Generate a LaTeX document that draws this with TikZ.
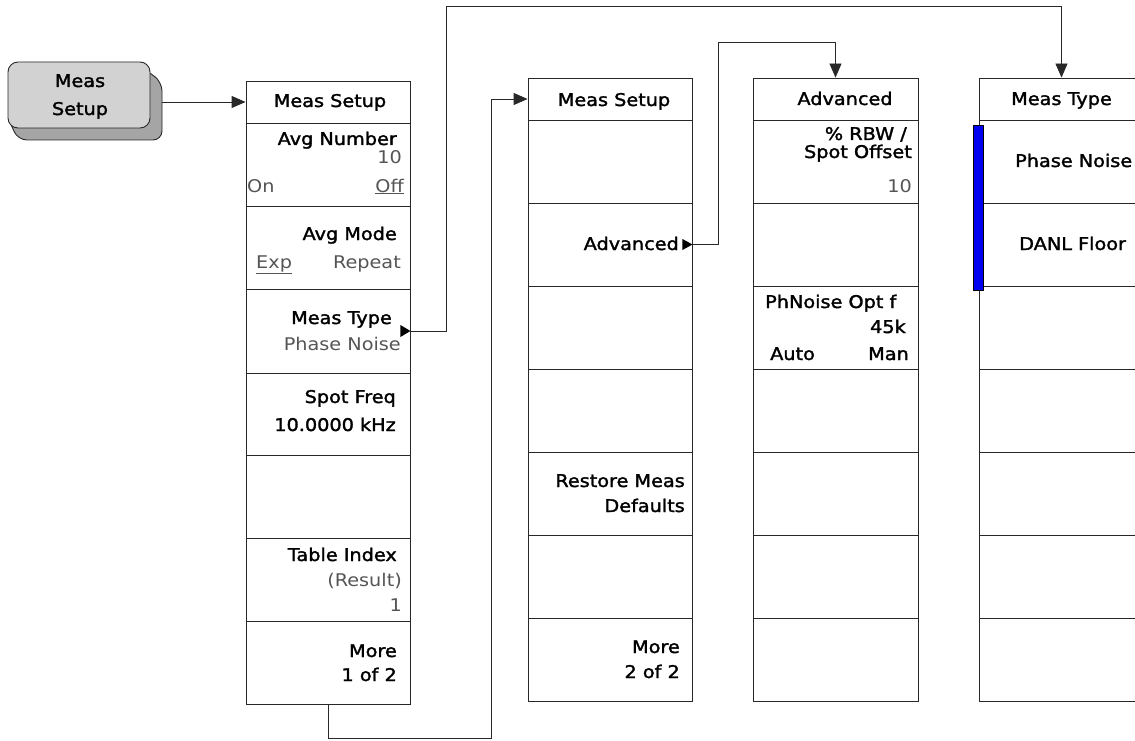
\documentclass[tikz,border=0pt]{standalone}
\usepackage{fontspec}
\setmainfont{DejaVu Sans}[FakeStretch=1.1]
\newfontfamily\lblface{DejaVu Sans}[FakeStretch=1.1,FakeBold=1.8]
\newfontfamily\valface{DejaVu Sans}[FakeStretch=1.1]
\usetikzlibrary{arrows.meta}
\definecolor{btnfill}{RGB}{210,210,210}
\definecolor{btnshadow}{RGB}{165,165,165}
\definecolor{valgray}{RGB}{85,85,85}
\definecolor{edge}{RGB}{40,40,40}
\definecolor{barblue}{RGB}{0,0,240}
\tikzset{
  cellbox/.style={draw=edge, line width=0.9pt, rectangle, inner sep=0pt, fill=white},
  lbl/.style={inner sep=0pt, anchor=base east, font=\lblface\fontsize{17.5}{20}\selectfont, text=black},
  lblw/.style={lbl, anchor=base west},
  lblc/.style={lbl, anchor=base},
  val/.style={lbl, font=\valface\fontsize{17.5}{20}\selectfont, text=valgray},
  valw/.style={val, anchor=base west},
  conn/.style={draw=edge, line width=0.9pt},
  arr/.style={conn, -{Triangle[length=14pt,width=12pt]}},
  marker/.style={fill=black},
}
\begin{document}
\begin{tikzpicture}[x=1pt,y=-1pt]
\clip (0,0) rectangle (1135,741);
\fill[white] (0,0) rectangle (1135,741);

% hard key
\draw[edge, line width=0.9pt, fill=btnshadow, rounded corners=9pt]
  (135,62) -- (162,82) -- (162,140) -- (18,140) -- (8,118) -- cycle;
\node[draw=edge, line width=0.9pt, fill=btnfill, rounded corners=10pt,
  minimum width=142pt, minimum height=66pt, inner sep=0pt] (btn) at (79,95) {};
\node[lblc] (btnt1) at (80,87) {Meas};
\node[lblc] (btnt2) at (80,115) {Setup};

% column 1
\node[cellbox, minimum width=164pt, minimum height=42pt] (c1h) at (328,102) {};
\node[cellbox, minimum width=164pt, minimum height=83pt] (c1a) at (328,164.5) {};
\node[cellbox, minimum width=164pt, minimum height=83pt] (c1b) at (328,247.5) {};
\node[cellbox, minimum width=164pt, minimum height=84pt] (c1c) at (328,331) {};
\node[cellbox, minimum width=164pt, minimum height=82pt] (c1d) at (328,414) {};
\node[cellbox, minimum width=164pt, minimum height=83pt] (c1e) at (328,496.5) {};
\node[cellbox, minimum width=164pt, minimum height=83pt] (c1f) at (328,579.5) {};
\node[cellbox, minimum width=164pt, minimum height=83pt] (c1g) at (328,662.5) {};

\node[lblc] (t1h) at (330,107) {Meas Setup};
\node[lbl] (t1a1) at (397,145) {Avg Number};
\node[val] (t1a2) at (402,164) {10};
\node[valw] (t1a3) at (247,192) {On};
\node[val] (t1a4) at (404,192) {\underline{Off}};
\node[lbl] (t1b1) at (397,240) {Avg Mode};
\node[valw] (t1b2) at (256,268) {\underline{Exp}};
\node[val] (t1b3) at (401,268) {Repeat};
\node[lbl] (t1c1) at (392,324) {Meas Type};
\node[val] (t1c2) at (401,350) {Phase Noise};
\node[lbl] (t1d1) at (396,403) {Spot Freq};
\node[lbl] (t1d2) at (396,431) {10.0000 kHz};
\node[lbl] (t1f1) at (397,561) {Table Index};
\node[val] (t1f2) at (402,586) {(Result)};
\node[val] (t1f3) at (402,611) {1};
\node[lbl] (t1g1) at (397,657) {More};
\node[lbl] (t1g2) at (397,681) {1 of 2};

% column 2
\node[cellbox, minimum width=164pt, minimum height=42pt] (c2h) at (610,99) {};
\foreach \n/\y in {a/161.5,b/244.5,c/327.5,d/410.5,e/493.5,f/576.5,g/659.5}
  \node[cellbox, minimum width=164pt, minimum height=83pt] (c2\n) at (610,\y) {};
\node[lblc] (t2h) at (614,106) {Meas Setup};
\node[lbl] (t2b) at (679,250) {Advanced};
\node[lbl] (t2e1) at (685,487) {Restore Meas};
\node[lbl] (t2e2) at (685,512) {Defaults};
\node[lbl] (t2g1) at (680,653) {More};
\node[lbl] (t2g2) at (680,678) {2 of 2};

% column 3
\node[cellbox, minimum width=165pt, minimum height=42pt] (c3h) at (835.5,99) {};
\foreach \n/\y in {a/161.5,b/244.5,c/327.5,d/410.5,e/493.5,f/576.5,g/659.5}
  \node[cellbox, minimum width=165pt, minimum height=83pt] (c3\n) at (835.5,\y) {};
\node[lblc] (t3h) at (845,105) {Advanced};
\node[lbl] (t3a1) at (907,140) {\% RBW /};
\node[lbl] (t3a2) at (912,158) {Spot Offset};
\node[val] (t3a3) at (912,193) {10};
\node[lblw] (t3c1) at (765,308) {PhNoise Opt f};
\node[lbl] (t3c2) at (906,333) {45k};
\node[lblw] (t3c3) at (770,360) {Auto};
\node[lbl] (t3c4) at (909,360) {Man};

% column 4
\node[cellbox, minimum width=165pt, minimum height=42pt] (c4h) at (1061.5,99) {};
\foreach \n/\y in {a/161.5,b/244.5,c/327.5,d/410.5,e/493.5,f/576.5,g/659.5}
  \node[cellbox, minimum width=165pt, minimum height=83pt] (c4\n) at (1061.5,\y) {};
\node[draw=black, line width=0.6pt, fill=barblue, minimum width=10pt, minimum height=165pt, inner sep=0pt] (bar) at (978,207.5) {};
\node[lblw] (t4h) at (1011,105) {Meas Type};
\node[lblw] (t4a) at (1015,167) {Phase Noise};
\node[lblw] (t4b) at (1019,250) {DANL Floor};

% softkey markers
\fill[marker] (c1c.east) -- ++(-10,-6) -- ++(0,12) -- cycle;
\fill[marker] (c2b.east) -- ++(-10,-5.5) -- ++(0,11) -- cycle;

% connectors
\draw[arr] ([shift={(12,7)}]btn.east) -- (c1h.west);
\draw[arr] (c1c.east) -- ++(36,0) |- ([yshift=71pt]c4h.north) -- (c4h.north);
\draw[arr] (c1g.south) -- ++(0,34) -| ([xshift=-36pt]c2h.west) -- (c2h.west);
\draw[arr] (c2b.east) -- ++(26,0) |- ([yshift=35pt]c3h.north) -- (c3h.north);
\end{tikzpicture}
\end{document}
